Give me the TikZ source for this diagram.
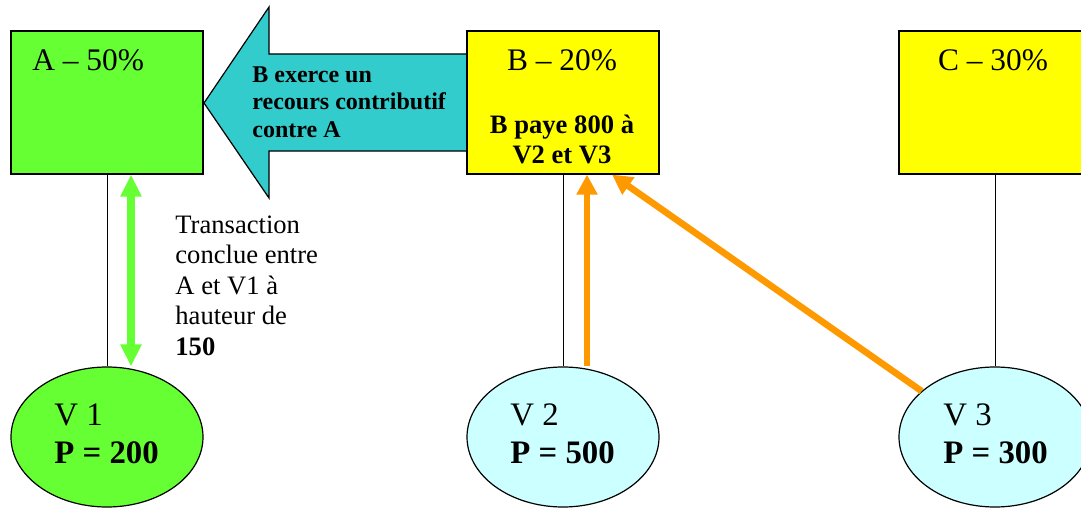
\documentclass[tikz,border=0pt]{standalone}
\usepackage{fontspec}
\setmainfont{Liberation Serif}
\usepackage{tikz}
\usetikzlibrary{arrows.meta,positioning,shapes.geometric}
\usepackage{xcolor}
\definecolor{vert1}{HTML}{66FF33}
\definecolor{jaune1}{HTML}{FFFF00}
\definecolor{turq1}{HTML}{33CCCC}
\definecolor{ciel1}{HTML}{CCFFFF}
\definecolor{orange1}{HTML}{FF9900}

\begin{document}
\begin{tikzpicture}[
  x=0.5pt,y=-0.5pt,
  box1/.style={
    draw,line width=0.6pt,
    minimum width=96pt,minimum height=71.5pt,inner sep=0pt,
    },
  oval1/.style={
    draw,ellipse,line width=0.6pt,
    minimum width=96pt,minimum height=70pt,inner sep=0pt,
    },
  title1/.style={font=\fontsize{15.7pt}{18pt}\selectfont,inner sep=0pt},
  label1/.style={
    align=left,anchor=base west,inner sep=0pt,
    font=\fontsize{16.4pt}{19pt}\selectfont,
    },
  link1/.style={line width=0.5pt},
  flux1/.style={
    draw=orange1,line width=3.3pt,
    -{Triangle[width=10pt,length=10pt]},
    },
  ]
  \useasboundingbox (0,0) rectangle (1081,508);

  % grosse fleche du recours
  \draw[fill=turq1,line width=0.6pt]
    (467,54) -- (269,54) -- (269,7) -- (204,103)
    -- (269,198) -- (269,151) -- (467,151);
  \node[align=left,anchor=base west,inner sep=0pt,
    font=\fontsize{12pt}{13.75pt}\selectfont\bfseries]
    (recours) at (252,137.5)
    {B exerce un\\recours contributif\\contre A};

  % coobliges
  \node[box1,fill=vert1] (A) at (107,102.5) {};
  \node[box1,fill=jaune1] (B) at (563,102.5) {};
  \node[box1,fill=jaune1] (C) at (995,102.5) {};
  \node[title1,anchor=base west] (Atitle) at (32,71) {A – 50\%};
  \node[title1,anchor=base] (Btitle) at (562,71) {B – 20\%};
  \node[title1,anchor=base] (Ctitle) at (993,71) {C – 30\%};
  \node[align=center,anchor=base,inner sep=0pt,
    font=\fontsize{13.3pt}{15pt}\selectfont\bfseries]
    (paye) at (562,163) {B paye 800 à\\V2 et V3};

  % victimes
  \node[oval1,fill=vert1] (V1) at (107,437) {};
  \node[oval1,fill=ciel1] (V2) at (563,437) {};
  \node[oval1,fill=ciel1] (V3) at (995,437) {};
  \node[label1] (V1text) at (54,463) {V 1\\\textbf{P = 200}};
  \node[label1] (V2text) at (510,463) {V 2\\\textbf{P = 500}};
  \node[label1] (V3text) at (943,463) {V 3\\\textbf{P = 300}};

  \draw[link1] (A.south) -- (V1.north);
  \draw[link1] (B.south) -- (V2.north);
  \draw[link1] (C.south) -- (V3.north);

  % transaction A / V1
  \draw[vert1,line width=4pt,
    {Triangle[width=10pt,length=11pt]}-{Triangle[width=10pt,length=11pt]}]
    ([xshift=12pt]A.south) -- ([xshift=12pt]V1.north);
  \node[align=left,anchor=base west,inner sep=0pt,
    font=\fontsize{13.3pt}{15.25pt}\selectfont]
    (transac) at (175,355)
    {Transaction\\conclue entre\\A et V1 à\\hauteur de\\\textbf{150}};

  % paiements de B
  \draw[flux1] ([xshift=12pt]V2.north) -- ([xshift=12pt]B.south);
  \draw[flux1] (V3.148) -- ([xshift=24.5pt]B.south);
\end{tikzpicture}
\end{document}
